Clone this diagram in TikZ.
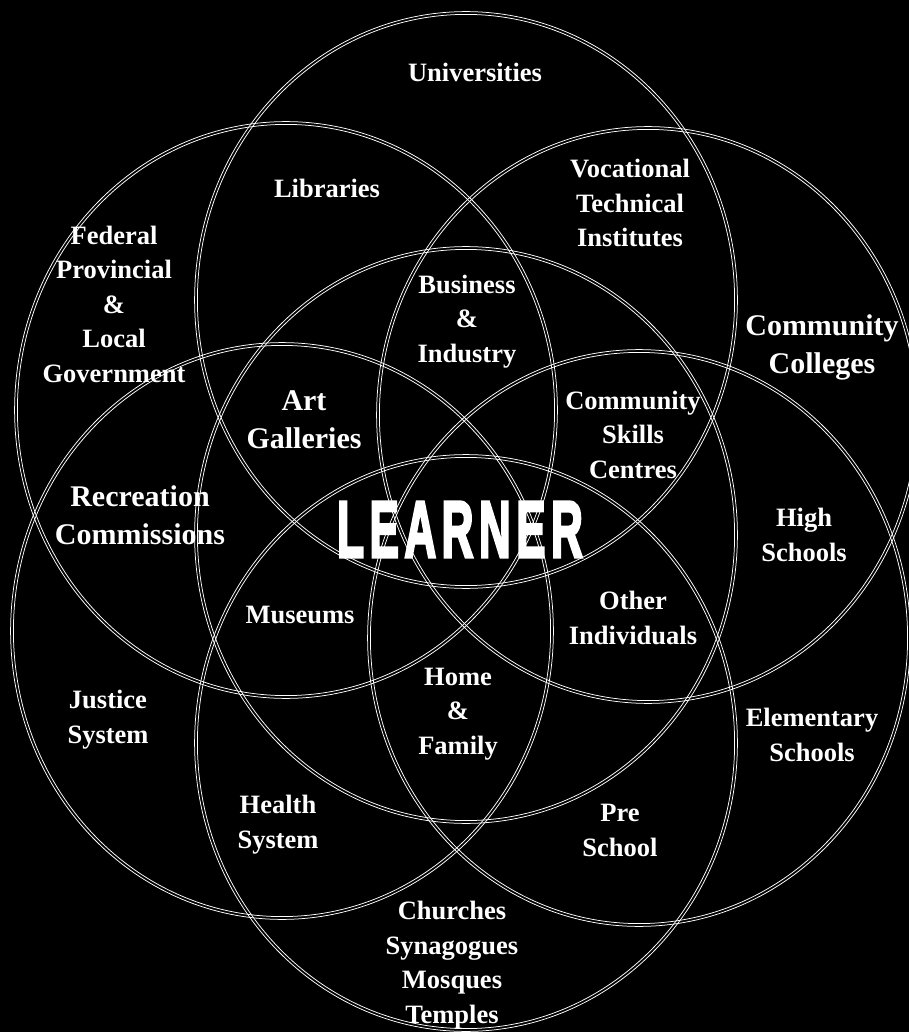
\documentclass[tikz,border=0pt]{standalone}
\usepackage{fontspec}
\setmainfont{Liberation Serif}
\newfontfamily\learnerfont[FakeBold=4]{Liberation Sans Bold}
\begin{document}
\begin{tikzpicture}[x=1pt,y=-1pt,
  ring/.style={draw=white,line width=0.75pt},
  lbl/.style={text=white,align=center,anchor=base,inner sep=0pt,font=\fontsize{26.5}{34.5}\selectfont\bfseries},
  biglbl/.style={lbl,font=\fontsize{30}{38}\selectfont\bfseries},
  bigword/.style={text=white,anchor=base,inner sep=0pt,font=\learnerfont\fontsize{80}{80}\selectfont}]
\useasboundingbox[fill=black] (0,0) rectangle (909,1032);
\foreach \cx/\cy in {466/300, 286/410, 648/415, 466/535, 282/631, 639/638, 466/743} {
  \draw[ring] (\cx,\cy) ellipse [x radius=268.6pt, y radius=285.6pt];
  \draw[ring] (\cx,\cy) ellipse [x radius=271.4pt, y radius=288.4pt];
}
% anchor=base of a multi-line node is the baseline of its last line
\node[lbl] (univ) at (475,82) {Universities};
\node[lbl] (lib) at (327,198) {Libraries};
\node[lbl] (gov) at (114,382) {Federal\\Provincial\\\&\\Local\\Government};
\node[lbl] (voc) at (630,247) {Vocational\\Technical\\Institutes};
\node[lbl] (bus) at (467,362) {Business\\\&\\Industry};
\node[biglbl] (cc) at (822,373) {Community\\Colleges};
\node[biglbl] (art) at (304,448) {Art\\Galleries};
\node[lbl] (csc) at (633,478) {Community\\Skills\\Centres};
\node[biglbl] (rec) at (140,544) {Recreation\\Commissions};
\node[lbl] (high) at (804,561) {High\\Schools};
\node[lbl] (mus) at (300,623) {Museums};
\node[lbl] (oth) at (633,644) {Other\\Individuals};
\node[lbl] (home) at (458,754) {Home\\\&\\Family};
\node[lbl] (just) at (108,743) {Justice\\System};
\node[lbl] (elem) at (812,761) {Elementary\\Schools};
\node[lbl] (health) at (278,848) {Health\\System};
\node[lbl] (pre) at (620,856) {Pre\\School};
\node[lbl] (church) at (452,1023) {Churches\\Synagogues\\Mosques\\Temples};
\node[bigword] (learner) at (460,557) {\scalebox{0.55}[1]{L\kern10pt E\kern10pt A\kern10pt R\kern10pt N\kern10pt E\kern10pt R}};
\end{tikzpicture}
\end{document}
